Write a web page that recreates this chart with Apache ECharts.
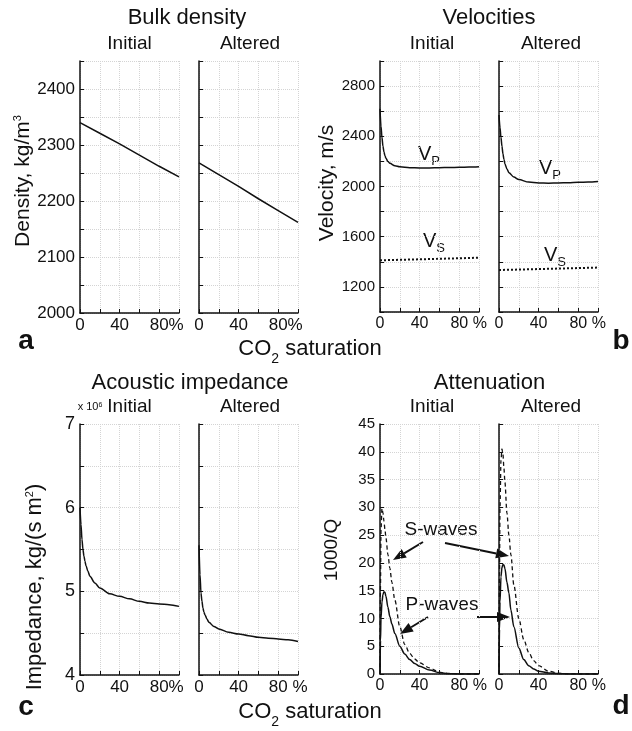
<!DOCTYPE html>
<html>
<head>
<meta charset="utf-8">
<script src="https://cdn.jsdelivr.net/npm/echarts@6/dist/echarts.min.js"></script>
<style>
  html, body { margin: 0; padding: 0; background: #fff; }
  #chart { width: 632px; height: 731px; }
</style>
</head>
<body>
<div id="chart"></div>
<script>
// CO2 saturation, % (x values)
var densX = [0, 20, 40, 60, 80, 100]
var densInitial = [2340, 2321, 2302, 2282, 2262, 2243]
var densAltered = [2268, 2247, 2226, 2204, 2183, 2162]

var curveX = [0, 1, 2, 3, 4, 5, 6, 8, 10, 15, 20, 30, 40, 50, 60, 70, 80, 90, 100]
var vpInitial = [2620, 2480, 2390, 2320, 2275, 2245, 2225, 2200, 2185, 2165, 2157, 2150, 2148, 2148, 2150, 2151, 2153, 2155, 2158]
var vpAltered = [2570, 2470, 2390, 2320, 2260, 2215, 2180, 2140, 2110, 2075, 2055, 2035, 2028, 2026, 2028, 2030, 2033, 2036, 2040]
var vsX = [0, 20, 40, 60, 80, 100]
var vsInitial = [1412, 1416, 1420, 1424, 1428, 1433]
var vsAltered = [1335, 1338, 1342, 1346, 1350, 1354]

var impInitial = [6.0, 5.8, 5.62, 5.5, 5.42, 5.36, 5.31, 5.24, 5.18, 5.1, 5.04, 4.97, 4.94, 4.91, 4.88, 4.86, 4.85, 4.84, 4.82]
var impAltered = [5.55, 5.2, 4.98, 4.88, 4.8, 4.75, 4.72, 4.67, 4.63, 4.58, 4.55, 4.51, 4.49, 4.47, 4.45, 4.44, 4.43, 4.42, 4.40]

var attX = [0, 0.5, 1, 2, 3, 4, 5, 6, 8, 10, 12, 15, 20, 25, 30, 35, 40, 50, 60, 70, 80, 90, 100]
var qsInitial = [0, 16, 26, 29.8, 29, 27.5, 26, 24.5, 21.5, 19, 16.5, 13.3, 8.5, 5.3, 3.7, 2.7, 2.0, 1.1, 0.3, 0.1, 0, 0, 0]
var qpInitial = [0, 6, 10, 13, 14.3, 14.8, 14.7, 14, 12, 10.3, 9, 7.3, 5, 3.6, 2.6, 1.9, 1.4, 0.7, 0.25, 0.05, 0, 0, 0]
var qsAltered = [0, 18, 30, 38.5, 40.5, 39.5, 37, 34.5, 29, 25, 21.5, 16, 10, 6.2, 3.9, 2.4, 1.5, 0.5, 0.15, 0.03, 0, 0, 0]
var qpAltered = [0, 8, 13, 17.5, 19.2, 19.7, 19.6, 19, 16.5, 14.6, 11.5, 8.5, 4.7, 2.6, 1.5, 0.9, 0.5, 0.2, 0.05, 0, 0, 0, 0]

// tick labels
var xLabelVals = [0, 40, 80]
var densLabels = [2000, 2100, 2200, 2300, 2400]
var velLabels = [1200, 1600, 2000, 2400, 2800]
var impLabels = [4, 5, 6, 7]
var attLabels = [0, 5, 10, 15, 20, 25, 30, 35, 40, 45]

var FONT = '"Liberation Sans", Arial, sans-serif'
var INK = '#111'

var chart = echarts.init(document.getElementById('chart'))

var grids = [
  { left: 80, top: 61, width: 99, height: 252 },
  { left: 199, top: 61, width: 99, height: 252 },
  { left: 380, top: 61, width: 99, height: 251 },
  { left: 499, top: 61, width: 99, height: 251 },
  { left: 80, top: 424, width: 99, height: 251 },
  { left: 199, top: 424, width: 99, height: 251 },
  { left: 380, top: 424, width: 99, height: 250 },
  { left: 499, top: 424, width: 99, height: 250 }
]

var splitLine = { show: true, lineStyle: { color: '#d4d4d4', type: 'dotted', width: 1 } }

function makeX(i, suffix, size) {
  return {
    type: 'value', gridIndex: i, min: 0, max: 100, interval: 20,
    axisLine: { lineStyle: { color: INK, width: 1.5 } },
    axisTick: { inside: true, length: 4, lineStyle: { color: INK } },
    splitLine: splitLine,
    axisLabel: {
      color: INK, fontFamily: FONT, fontSize: size, margin: 4,
      formatter: function(v) {
        if (xLabelVals.indexOf(v) < 0) return ''
        if (v === 80) return '{p|}80' + suffix
        return String(v)
      },
      rich: { p: { width: Math.round(size * (suffix === '%' ? 0.89 : 1.17)) } }
    }
  }
}

function makeY(i, min, max, interval, labels, show, size) {
  return {
    type: 'value', gridIndex: i, min: min, max: max, interval: interval,
    axisLine: { show: true, lineStyle: { color: INK, width: 1.5 } },
    axisTick: { show: true, inside: true, length: 4, lineStyle: { color: INK } },
    splitLine: splitLine,
    axisLabel: {
      show: show, color: INK, fontFamily: FONT, fontSize: size, margin: 5,
      formatter: function(v) {
        return labels.indexOf(v) >= 0 ? String(v) : ''
      }
    }
  }
}

function pairs(xs, ys) {
  return xs.map(function(x, k) { return [x, ys[k]] })
}

function line(i, xs, ys, type, width, smooth) {
  return {
    type: 'line', xAxisIndex: i, yAxisIndex: i,
    data: pairs(xs, ys), showSymbol: false,
    smooth: smooth === false ? false : 0.3, smoothMonotone: 'x',
    lineStyle: { color: INK, width: width || 1.5, type: type || 'solid' },
    silent: true
  }
}

function txt(x, y, text, size, extra) {
  var style = {
    text: text, x: 0, y: 0, fill: INK, fontFamily: FONT, fontSize: size,
    align: 'center', verticalAlign: 'middle'
  }
  extra = extra || {}
  for (var k in extra.style || {}) style[k] = extra.style[k]
  return { type: 'text', x: x, y: y, rotation: extra.rotation || 0, style: style, silent: true }
}

function arrow(x1, y1, x2, y2) {
  var a = Math.atan2(y2 - y1, x2 - x1)
  var L = 13, W = 5
  var bx = x2 - L * Math.cos(a), by = y2 - L * Math.sin(a)
  return [
    { type: 'line', shape: { x1: x1, y1: y1, x2: bx, y2: by }, style: { stroke: INK, lineWidth: 2 }, silent: true },
    {
      type: 'polygon', silent: true,
      shape: { points: [[x2, y2], [bx - W * Math.sin(a), by + W * Math.cos(a)], [bx + W * Math.sin(a), by - W * Math.cos(a)]] },
      style: { fill: INK }
    }
  ]
}

var subRich = function(big, small, pad) {
  return {
    b: { fontSize: big, fontFamily: FONT, fill: INK, verticalAlign: 'top' },
    s: { fontSize: small, fontFamily: FONT, fill: INK, verticalAlign: 'top', padding: [pad, 0, 0, 0] }
  }
}
var supRich = function(big, small) {
  return {
    b: { fontSize: big, fontFamily: FONT, fill: INK, verticalAlign: 'top' },
    s: { fontSize: small, fontFamily: FONT, fill: INK, verticalAlign: 'top' }
  }
}

var graphics = [
  txt(187, 18, 'Bulk density', 22),
  txt(129.5, 44, 'Initial', 19),
  txt(250, 44, 'Altered', 19),
  txt(489, 18, 'Velocities', 22),
  txt(432, 44, 'Initial', 19),
  txt(551, 44, 'Altered', 19),
  txt(310, 352, '{b|CO}{s|2}{b| saturation}', 22, { style: { rich: subRich(22, 14, 15) } }),
  txt(190, 383, 'Acoustic impedance', 22),
  txt(489.5, 383, 'Attenuation', 22),
  txt(129.5, 407, 'Initial', 19),
  txt(250, 407, 'Altered', 19),
  txt(432, 407, 'Initial', 19),
  txt(551, 407, 'Altered', 19),
  txt(310, 715, '{b|CO}{s|2}{b| saturation}', 22, { style: { rich: subRich(22, 14, 15) } }),
  txt(26, 341, 'a', 28, { style: { fontWeight: 'bold' } }),
  txt(621, 341, 'b', 28, { style: { fontWeight: 'bold' } }),
  txt(26, 707, 'c', 28, { style: { fontWeight: 'bold' } }),
  txt(621, 706, 'd', 28, { style: { fontWeight: 'bold' } }),
  txt(23, 181, '{b|Density, kg/m}{s|3}', 21, { rotation: Math.PI / 2, style: { rich: supRich(21, 11) } }),
  txt(327, 183, 'Velocity, m/s', 21, { rotation: Math.PI / 2 }),
  txt(35, 587, '{b|Impedance, kg/(s m}{s|2}{b|)}', 22, { rotation: Math.PI / 2, style: { rich: supRich(22, 11) } }),
  txt(332, 550, '1000/Q', 19, { rotation: Math.PI / 2 }),
  txt(90, 407, '{b|x 10}{s|6}', 11, { style: { rich: supRich(11, 7) } }),
  txt(418, 156, '{b|V}{s|P}', 20, { style: { align: 'left', rich: subRich(20, 13, 10) } }),
  txt(539, 170, '{b|V}{s|P}', 20, { style: { align: 'left', rich: subRich(20, 13, 10) } }),
  txt(423, 243, '{b|V}{s|S}', 20, { style: { align: 'left', rich: subRich(20, 13, 10) } }),
  txt(544, 257, '{b|V}{s|S}', 20, { style: { align: 'left', rich: subRich(20, 13, 10) } }),
  txt(441, 530, 'S-waves', 19),
  txt(442, 605, 'P-waves', 19)
]
  .concat(arrow(423, 542, 393, 560))
  .concat(arrow(445, 543, 509, 556))
  .concat(arrow(428, 617, 400, 634))
  .concat(arrow(477, 617, 510, 617))

var option = {
  backgroundColor: '#fff',
  animation: false,
  grid: grids,
  xAxis: [
    makeX(0, '%', 17), makeX(1, '%', 17),
    makeX(2, ' %', 16), makeX(3, ' %', 16),
    makeX(4, '%', 17), makeX(5, ' %', 17),
    makeX(6, ' %', 16), makeX(7, ' %', 16)
  ],
  yAxis: [
    makeY(0, 2000, 2450, 50, densLabels, true, 17),
    makeY(1, 2000, 2450, 50, densLabels, false, 17),
    makeY(2, 1000, 3000, 200, velLabels, true, 15),
    makeY(3, 1000, 3000, 200, velLabels, false, 15),
    makeY(4, 4, 7, 0.5, impLabels, true, 18),
    makeY(5, 4, 7, 0.5, impLabels, false, 18),
    makeY(6, 0, 45, 5, attLabels, true, 15),
    makeY(7, 0, 45, 5, attLabels, false, 15)
  ],
  series: [
    line(0, densX, densInitial, 'solid', 1.5, false),
    line(1, densX, densAltered, 'solid', 1.5, false),
    line(2, curveX, vpInitial),
    line(2, vsX, vsInitial, [2, 2], 2, false),
    line(3, curveX, vpAltered),
    line(3, vsX, vsAltered, [2, 2], 2, false),
    line(4, curveX, impInitial),
    line(5, curveX, impAltered),
    line(6, attX, qsInitial, [4, 3], 1.3),
    line(6, attX, qpInitial, 'solid', 1.5),
    line(7, attX, qsAltered, [4, 3], 1.3),
    line(7, attX, qpAltered, 'solid', 1.5)
  ],
  graphic: graphics
}

chart.setOption(option)
</script>
</body>
</html>
